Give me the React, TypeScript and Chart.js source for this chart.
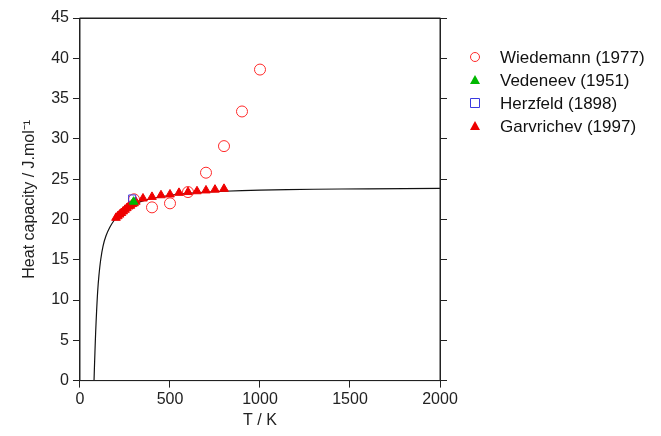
import { useEffect, useRef } from "react"
import { Chart, registerables, type ChartConfiguration, type Plugin } from "chart.js"

Chart.register(...registerables)

// model curve
const curveT = [78, 80, 83, 87, 92, 98, 105, 115, 128, 145, 165, 190, 220, 260, 300, 350, 400, 500, 600, 800, 1000, 1300, 1600, 2000]
const curveCp = [0, 1.5, 3.5, 6, 8.5, 11, 13, 15, 16.7, 18, 19, 19.9, 20.7, 21.4, 21.9, 22.3, 22.6, 23.0, 23.25, 23.5, 23.65, 23.75, 23.8, 23.85]

const wiedT = [300, 400, 500, 600, 700, 800, 900, 1000]
const wiedCp = [22.5, 21.5, 22.0, 23.4, 25.8, 29.1, 33.4, 38.6]

const vedT = [298]
const vedCp = [22.2]

const herzT = [290]
const herzCp = [22.6]

const garvT = [200, 210, 220, 230, 240, 250, 260, 270, 280, 290, 300, 310, 350, 400, 450, 500, 550, 600, 650, 700, 750, 800]
const garvCp = [20.2, 20.4, 20.6, 20.8, 21.0, 21.2, 21.4, 21.6, 21.7, 21.9, 22.0, 22.2, 22.6, 22.8, 23.0, 23.1, 23.3, 23.4, 23.5, 23.6, 23.7, 23.8]

const pts = (xs: number[], ys: number[]) => xs.map((x, i) => ({ x, y: ys[i] }))

const legendItems = [
  { label: "Wiedemann (1977)", style: "circle", color: "#ff2a2a" },
  { label: "Vedeneev (1951)", style: "triangle", color: "#00b800" },
  { label: "Herzfeld (1898)", style: "rect", color: "#3a3ae0" },
  { label: "Garvrichev (1997)", style: "triangle", color: "#ee0000" },
]

const legendPlugin: Plugin = {
  id: "sideLegend",
  afterDraw(chart) {
    const ctx = chart.ctx
    ctx.save()
    ctx.font = "17px 'Liberation Sans', Arial, sans-serif"
    ctx.textBaseline = "middle"
    legendItems.forEach((it, i) => {
      const y = 57 + i * 23
      const x = 475
      ctx.strokeStyle = it.color
      ctx.fillStyle = it.color
      ctx.lineWidth = 1
      ctx.beginPath()
      if (it.style === "circle") {
        ctx.arc(x, y, 4.5, 0, Math.PI * 2)
        ctx.stroke()
      } else if (it.style === "rect") {
        ctx.rect(x - 4.5, y - 4.5, 9, 9)
        ctx.stroke()
      } else {
        ctx.moveTo(x, y - 5)
        ctx.lineTo(x + 5, y + 4)
        ctx.lineTo(x - 5, y + 4)
        ctx.closePath()
        ctx.fill()
      }
      ctx.fillStyle = "#111"
      ctx.fillText(it.label, 500, y + 1)
    })
    const a = chart.chartArea
    ctx.strokeStyle = "#222"
    ctx.lineWidth = 1
    ctx.strokeRect(a.left, a.top, a.right - a.left, a.bottom - a.top)
    ctx.restore()
  },
}

export default function App() {
  const chartRef = useRef<HTMLCanvasElement>(null)
  const chartInstance = useRef<Chart | null>(null)

  useEffect(() => {
    if (!chartRef.current) return
    if (chartInstance.current) chartInstance.current.destroy()

    const font = { family: "'Liberation Sans', Arial, sans-serif", size: 16 }
    const grid = { display: true, drawOnChartArea: false, drawTicks: true, tickLength: 7, color: "#222" }
    const noTicks = { display: true, drawOnChartArea: false, drawTicks: false, color: "#222" }

    const config: ChartConfiguration<"scatter"> = {
      type: "scatter",
      data: {
        datasets: [
          { label: "curve", data: pts(curveT, curveCp), showLine: true, borderColor: "#111", borderWidth: 1.2, pointRadius: 0, tension: 0.3, order: 5 },
          { label: "Vedeneev (1951)", data: pts(vedT, vedCp), pointStyle: "triangle", pointRadius: 5, borderColor: "#00b800", backgroundColor: "#00b800", borderWidth: 1 },
          { label: "Herzfeld (1898)", data: pts(herzT, herzCp), pointStyle: "rect", pointRadius: 5, borderColor: "#3a3ae0", backgroundColor: "rgba(0,0,0,0)", borderWidth: 1 },
          { label: "Garvrichev (1997)", data: pts(garvT, garvCp), pointStyle: "triangle", pointRadius: 5, borderColor: "#ee0000", backgroundColor: "#ee0000", borderWidth: 1 },
          { label: "Wiedemann (1977)", data: pts(wiedT, wiedCp), pointStyle: "circle", pointRadius: 5.5, borderColor: "#ff2a2a", backgroundColor: "rgba(0,0,0,0)", borderWidth: 1 },
        ],
      },
      options: {
        responsive: false,
        animation: false,
        layout: { padding: { top: 18, right: 214, left: 16, bottom: 6 } },
        plugins: { legend: { display: false }, tooltip: { enabled: false } },
        scales: {
          x: {
            type: "linear", min: 0, max: 2000,
            ticks: { stepSize: 500, color: "#222", font, padding: 2, callback: (v) => String(v) },
            grid, border: { color: "#222" },
            title: { display: true, text: "T / K", color: "#222", font, padding: { top: 0, bottom: 0 } },
          },
          x2: {
            type: "linear", position: "top", min: 0, max: 2000,
            ticks: { display: false }, grid: noTicks, border: { color: "#222" },
          },
          y: {
            type: "linear", min: 0, max: 45,
            ticks: { stepSize: 5, color: "#222", font, padding: 4 },
            grid, border: { color: "#222" },
            title: { display: true, text: "Heat capacity / J.mol⁻¹", color: "#222", font, padding: { bottom: 8 } },
          },
          y2: {
            type: "linear", position: "right", min: 0, max: 45,
            ticks: { stepSize: 5, display: false }, grid, border: { color: "#222" },
          },
        },
      },
      plugins: [legendPlugin],
    }

    chartInstance.current = new Chart(chartRef.current, config)
    return () => {
      chartInstance.current?.destroy()
    }
  }, [])

  return (
    <div style={{ position: "fixed", left: 0, top: 0, width: 661, height: 436, background: "#fff" }}>
      <canvas ref={chartRef} width={661} height={436}></canvas>
    </div>
  )
}
